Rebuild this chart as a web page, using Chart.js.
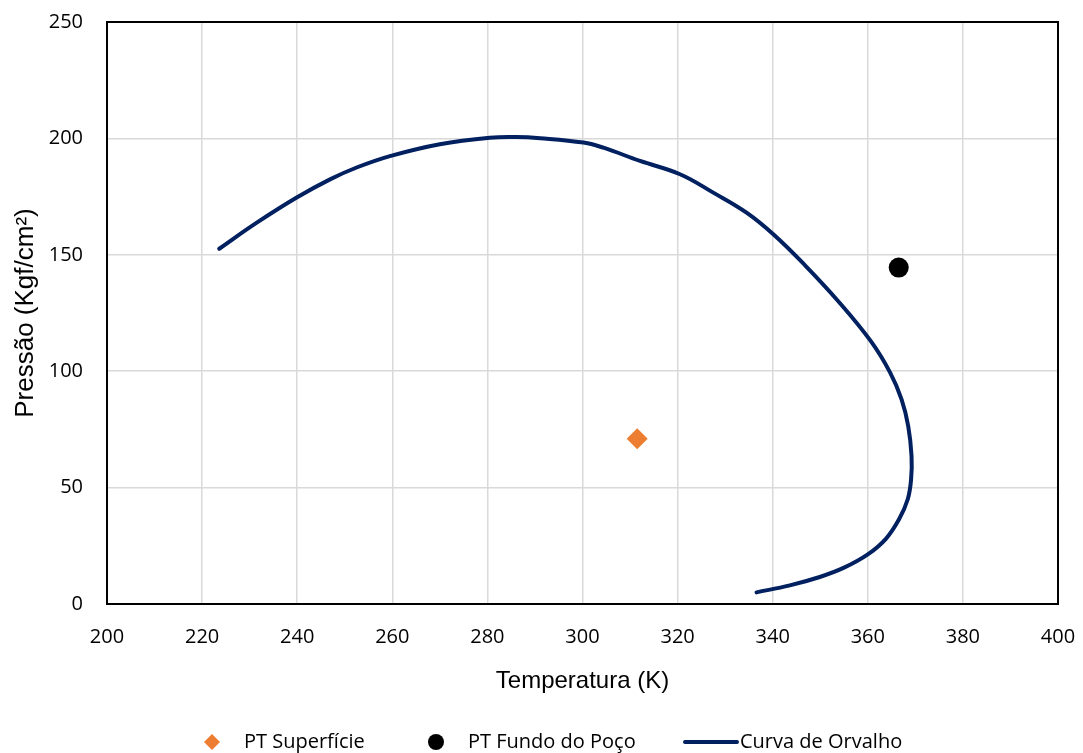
<!DOCTYPE html>
<html>
<head>
<meta charset="utf-8">
<script src="https://cdn.jsdelivr.net/npm/chart.js@4.4.1/dist/chart.umd.min.js"></script>
<style>
  html, body { margin: 0; padding: 0; background: #fff; }
  #wrap { width: 1083px; height: 753px; position: relative; }
</style>
</head>
<body>
<div id="wrap"><canvas id="envelope"></canvas></div>
<script>
// dew point curve (T in K, P in Kgf/cm2), from low T round past the cricondentherm
const curveT = [223.6, 231.5, 239.9, 246.9, 252.5, 259.5, 270.0, 280.5, 286.0, 291.1, 300.2, 304.4, 312.1, 320.5, 327.5, 334.5, 340.3, 346.8, 353.6, 360.6, 364.7, 367.1, 368.5, 369.2, 369.1, 368.4, 366.6, 363.8, 360.0, 355.0, 349.9, 343.6, 336.6];
const curveP = [152.6, 163.8, 174.6, 182.4, 187.5, 192.4, 197.5, 200.3, 200.6, 200.1, 198.2, 196.0, 190.3, 184.6, 176.7, 168.1, 158.5, 145.5, 130.5, 113.0, 99.4, 87.9, 76.4, 63.5, 53.5, 45.0, 36.5, 28.0, 21.3, 15.6, 11.6, 8.0, 5.0];

// operating points
const surfaceT = [311.5];
const surfaceP = [71.0];
const bottomT = [366.5];
const bottomP = [144.5];

const xTicks = [200, 220, 240, 260, 280, 300, 320, 340, 360, 380, 400];
const yTicks = [0, 50, 100, 150, 200, 250];

const labels = ["PT Superfície", "PT Fundo do Poço", "Curva de Orvalho"];

function toPoints(xs, ys) {
  return xs.map(function (x, i) { return { x: x, y: ys[i] }; });
}

// frame round the plot area
const frame = {
  id: 'frame',
  afterDatasetsDraw: function (chart) {
    const a = chart.chartArea;
    const ctx = chart.ctx;
    ctx.save();
    ctx.strokeStyle = '#000';
    ctx.lineWidth = 2;
    ctx.strokeRect(a.left, a.top, a.right - a.left, a.bottom - a.top);
    ctx.restore();
  }
};

// legend row under the axis title
const bottomLegend = {
  id: 'bottomLegend',
  afterDraw: function (chart) {
    const ctx = chart.ctx;
    const ds = chart.data.datasets;
    const y = 742;
    ctx.save();
    ctx.font = '20px "Open Sans", sans-serif';
    ctx.textBaseline = 'middle';

    // diamond
    ctx.fillStyle = ds[0].backgroundColor;
    ctx.beginPath();
    ctx.moveTo(212, y - 8); ctx.lineTo(220, y); ctx.lineTo(212, y + 8); ctx.lineTo(204, y);
    ctx.closePath(); ctx.fill();
    ctx.fillStyle = '#000';
    ctx.fillText(ds[0].label, 244, y);

    // circle
    ctx.fillStyle = ds[1].backgroundColor;
    ctx.beginPath(); ctx.arc(436, y, 8, 0, Math.PI * 2); ctx.fill();
    ctx.fillStyle = '#000';
    ctx.fillText(ds[1].label, 468, y);

    // line
    ctx.strokeStyle = ds[2].borderColor;
    ctx.lineWidth = 4;
    ctx.lineCap = 'round';
    ctx.beginPath(); ctx.moveTo(685, y); ctx.lineTo(737, y); ctx.stroke();
    ctx.fillText(ds[2].label, 740, y);
    ctx.restore();
  }
};

new Chart(document.getElementById('envelope'), {
  type: 'scatter',
  data: {
    datasets: [{
      label: labels[0],
      data: toPoints(surfaceT, surfaceP),
      pointStyle: 'rectRot',
      pointRadius: 10.5,
      backgroundColor: '#ED7D31',
      borderColor: '#ED7D31',
      borderWidth: 0
    }, {
      label: labels[1],
      data: toPoints(bottomT, bottomP),
      pointStyle: 'circle',
      pointRadius: 10,
      backgroundColor: '#000000',
      borderColor: '#000000',
      borderWidth: 0
    }, {
      label: labels[2],
      data: toPoints(curveT, curveP),
      showLine: true,
      pointRadius: 0,
      borderColor: '#002060',
      backgroundColor: '#002060',
      borderWidth: 4,
      borderCapStyle: 'round',
      tension: 0.4
    }]
  },
  options: {
    responsive: true,
    maintainAspectRatio: false,
    animation: false,
    layout: { padding: { top: 22, right: 25, bottom: 49, left: 0 } },
    plugins: {
      legend: { display: false },
      tooltip: { enabled: false }
    },
    scales: {
      x: {
        type: 'linear',
        min: 200, max: 400,
        afterBuildTicks: function (s) { s.ticks = xTicks.map(function (v) { return { value: v }; }); },
        afterFit: function (s) { s.height = 100; s.paddingLeft = 0; s.paddingRight = 0; },
        grid: { color: '#d9d9d9', lineWidth: 1.5, drawTicks: false },
        border: { display: false },
        ticks: {
          padding: 21,
          color: '#000',
          font: { family: '"Open Sans", sans-serif', size: 20 }
        },
        title: {
          display: true,
          text: 'Temperatura (K)',
          color: '#000',
          padding: { top: 0, bottom: 8 },
          font: { family: '"Liberation Sans", Arial, sans-serif', size: 24 }
        }
      },
      y: {
        type: 'linear',
        min: 0, max: 250,
        afterBuildTicks: function (s) { s.ticks = yTicks.map(function (v) { return { value: v }; }); },
        afterFit: function (s) { s.width = 107; s.paddingTop = 0; s.paddingBottom = 0; },
        grid: { color: '#d9d9d9', lineWidth: 1.5, drawTicks: false },
        border: { display: false },
        ticks: {
          padding: 24,
          color: '#000',
          font: { family: '"Open Sans", sans-serif', size: 20 }
        },
        title: {
          display: true,
          text: 'Pressão (Kgf/cm²)',
          color: '#000',
          padding: { top: 10, bottom: 0 },
          font: { family: '"Liberation Sans", Arial, sans-serif', size: 26 }
        }
      }
    }
  },
  plugins: [frame, bottomLegend]
});
</script>
</body>
</html>
